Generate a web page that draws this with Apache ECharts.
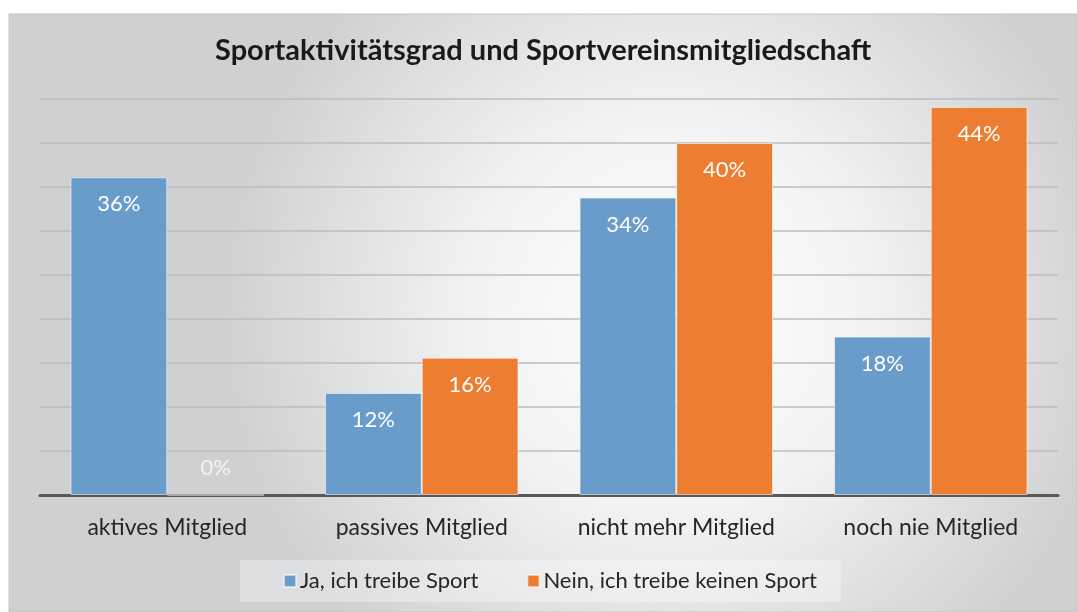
<!DOCTYPE html>
<html>
<head>
<meta charset="utf-8">
<script src="https://cdn.jsdelivr.net/npm/echarts@6/dist/echarts.min.js"></script>
<style>
  html, body { margin: 0; padding: 0; background: #fff; }
  #main { width: 1077px; height: 612px; }
</style>
</head>
<body>
<div id="main"></div>
<script>
var categories = ['aktives Mitglied', 'passives Mitglied', 'nicht mehr Mitglied', 'noch nie Mitglied'];
var seriesNames = ['Ja, ich treibe Sport', 'Nein, ich treibe keinen Sport'];
var jaValues = [36.1, 11.6, 33.8, 18.0];
var neinValues = [0, 15.6, 40.0, 44.1];

var fontFam = 'Lato, "Open Sans", sans-serif';

var myChart = echarts.init(document.getElementById('main'));

function labelFor(v) {
  // 0-Werte stehen ueber der Grundlinie, blass
  if (v === 0) {
    return { value: v, label: { position: 'top', distance: 16, color: 'rgba(255,255,255,0.75)' } };
  }
  return v;
}

var option = {
  backgroundColor: '#fff',
  animation: false,
  graphic: [{
    type: 'rect',
    z: -10,
    shape: { x: 9, y: 14, width: 1068, height: 598 },
    style: {
      fill: {
        type: 'radial', x: 0.62, y: 0.5, r: 0.75,
        colorStops: [
          { offset: 0, color: '#ffffff' },
          { offset: 0.45, color: '#f1f2f3' },
          { offset: 1, color: '#cfd0d2' }
        ]
      },
      stroke: '#c4c4c6',
      lineWidth: 1
    }
  }],
  title: {
    text: 'Sportaktivitätsgrad und Sportvereinsmitgliedschaft',
    left: 210,
    top: 31,
    textStyle: { fontFamily: fontFam, fontWeight: 'bold', fontSize: 29, color: '#1a1a1a' }
  },
  legend: {
    top: 560,
    left: 240,
    padding: [10, 24, 10, 43],
    backgroundColor: 'rgba(255,255,255,0.3)',
    itemWidth: 12,
    itemHeight: 12,
    itemGap: 48,
    icon: 'rect',
    textStyle: { fontFamily: fontFam, fontSize: 22, color: '#262626', padding: [0, 0, 0, -1] },
    data: seriesNames
  },
  grid: { left: 40, right: 19, top: 99, bottom: 117 },
  xAxis: {
    type: 'category',
    data: categories,
    axisLine: { lineStyle: { color: '#595959', width: 3 } },
    axisTick: { show: false },
    axisLabel: { interval: 0, fontFamily: fontFam, fontSize: 23, color: '#262626', margin: 21 }
  },
  yAxis: {
    type: 'value',
    min: 0,
    max: 45,
    interval: 5,
    axisLabel: { show: false },
    axisLine: { show: false },
    axisTick: { show: false },
    splitLine: { lineStyle: { color: '#bdbdbd', width: 1.5 } }
  },
  series: [
    {
      name: seriesNames[0],
      type: 'bar',
      data: jaValues.map(labelFor),
      barGap: '0%',
      barCategoryGap: '24%',
      itemStyle: { color: '#699ccb', borderColor: 'rgba(255,255,255,0.55)', borderWidth: 1 },
      label: {
        show: true, position: 'insideTop', distance: 16,
        color: '#fff', fontFamily: fontFam, fontSize: 22,
        formatter: function (p) { return Math.round(p.value) + '%'; }
      }
    },
    {
      name: seriesNames[1],
      type: 'bar',
      data: neinValues.map(labelFor),
      barGap: '0%',
      barCategoryGap: '24%',
      itemStyle: { color: '#ed7d31', borderColor: 'rgba(255,255,255,0.55)', borderWidth: 1 },
      label: {
        show: true, position: 'insideTop', distance: 16,
        color: '#fff', fontFamily: fontFam, fontSize: 22,
        formatter: function (p) { return Math.round(p.value) + '%'; }
      }
    }
  ]
};

myChart.setOption(option);
</script>
</body>
</html>
